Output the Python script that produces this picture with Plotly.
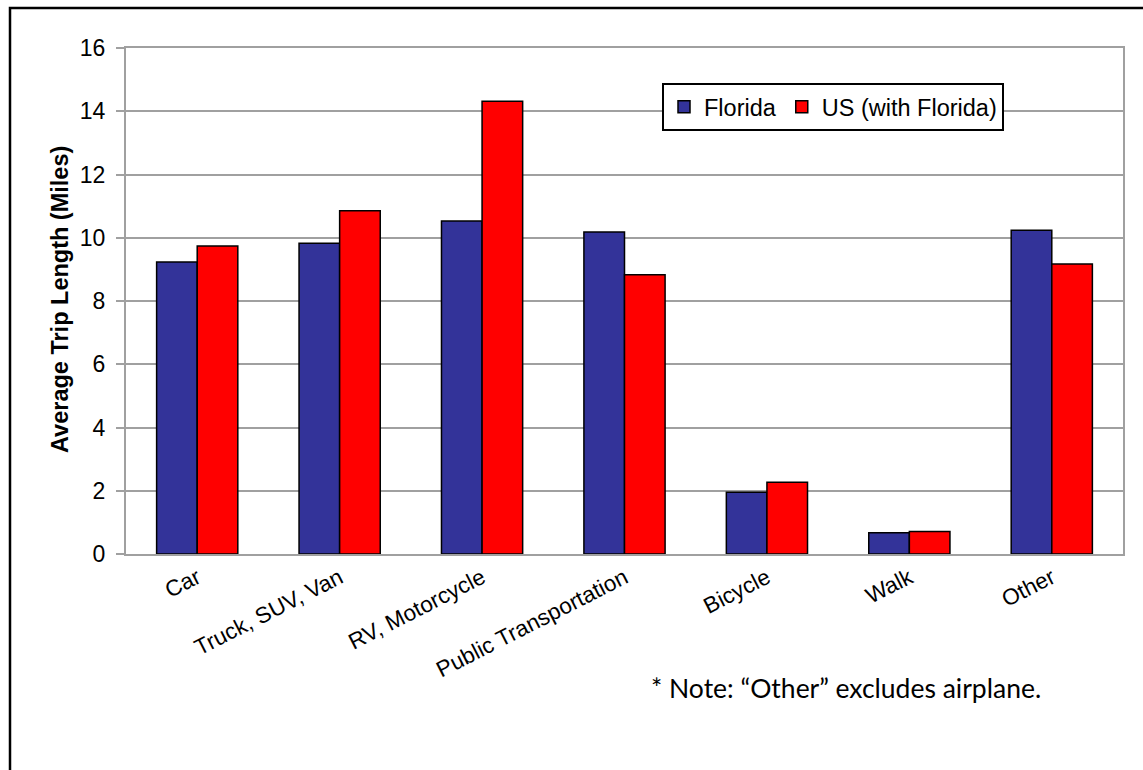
import plotly.graph_objects as go

# Average trip length by travel mode
modes = ["Car", "Truck, SUV, Van", "RV, Motorcycle", "Public Transportation",
         "Bicycle", "Walk", "Other"]
florida = [9.23, 9.83, 10.53, 10.18, 1.95, 0.67, 10.24]
us_with_florida = [9.74, 10.85, 14.32, 8.83, 2.27, 0.71, 9.17]
y_ticks = [0, 2, 4, 6, 8, 10, 12, 14, 16]

W, H = 1143, 770
L, R, T, B = 126, 20, 48, 216
pw, ph = W - L - R, H - T - B


def px_x(x):
    return (x - L) / pw


def px_y(y):
    return (H - B - y) / ph


fig = go.Figure()
fig.add_trace(go.Bar(
    x=modes, y=florida, name="Florida",
    marker=dict(color="#333399", line=dict(color="#000000", width=1.5)),
))
fig.add_trace(go.Bar(
    x=modes, y=us_with_florida, name="US (with Florida)",
    marker=dict(color="#FF0000", line=dict(color="#000000", width=1.5)),
))

grid = "#a0a0a0"
fig.update_layout(
    width=W, height=H,
    margin=dict(l=L, r=R, t=T, b=B),
    paper_bgcolor="white", plot_bgcolor="white",
    barmode="group", bargap=0.43, bargroupgap=0,
    font=dict(family="Liberation Sans, Arial", color="#000000"),
    legend=dict(
        orientation="h", x=px_x(662), y=px_y(83), xanchor="left", yanchor="top",
        bordercolor="#000000", borderwidth=2, bgcolor="white",
        font=dict(size=23.5), itemwidth=30,
    ),
    xaxis=dict(
        tickangle=-27, tickfont=dict(size=22.5), showgrid=False,
        showline=True, linecolor=grid, linewidth=2, mirror=True,
        ticks="",
    ),
    yaxis=dict(
        range=[0, 16], tickvals=y_ticks, tickfont=dict(size=23),
        showgrid=True, gridcolor=grid, gridwidth=2,
        showline=True, linecolor=grid, linewidth=2, mirror=True,
        ticks="outside", ticklen=8, tickcolor=grid, tickwidth=2,
        ticklabelstandoff=6, zeroline=False,
    ),
    annotations=[
        dict(text="<b>Average Trip Length (Miles)</b>", textangle=-90,
             xref="paper", yref="paper", x=px_x(60), y=px_y(300),
             xanchor="center", yanchor="middle", showarrow=False,
             font=dict(size=23.5, family="Liberation Sans, Arial")),
        dict(text="* Note: \u201cOther\u201d excludes airplane.",
             xref="paper", yref="paper", x=px_x(846), y=px_y(688),
             xanchor="center", yanchor="middle", showarrow=False,
             font=dict(size=26.5, family="Lato")),
    ],
    shapes=[
        dict(type="rect", xref="paper", yref="paper",
             x0=px_x(10), x1=px_x(1160), y0=px_y(790), y1=px_y(8),
             line=dict(color="#000000", width=2.5), layer="below"),
    ],
)

fig.write_html("out.html")
